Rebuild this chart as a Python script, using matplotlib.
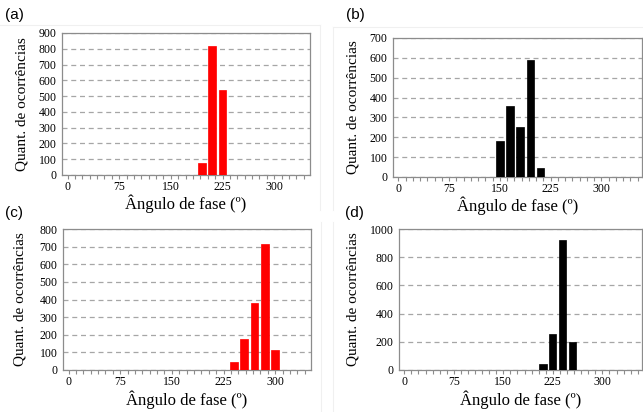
import matplotlib
matplotlib.use('Agg')
import matplotlib.pyplot as plt
from matplotlib.ticker import MultipleLocator
from matplotlib.lines import Line2D

# dados (centro da classe em graus, quantidade)
ang_a = [195, 210, 225]
qtd_a = [75, 820, 540]

ang_b = [150, 165, 180, 195, 210]
qtd_b = [180, 360, 250, 590, 45]

ang_c = [240, 255, 270, 285, 300]
qtd_c = [45, 175, 380, 715, 115]

ang_d = [195, 210, 225, 240, 255, 270]
qtd_d = [3, 45, 255, 920, 200, 3]

xticks = [0, 75, 150, 225, 300]

W, H = 643, 412
fig = plt.figure(figsize=(W/100, H/100), dpi=100)

def box(l, t, r, b):
    return [l/W, 1 - b/H, (r - l)/W, (b - t)/H]

serif = 'Liberation Serif'
sans = 'Liberation Sans'

# bordas claras das areas dos graficos (Excel)
for xs, ys in [([0, 320], [25, 25]), ([320, 320], [25, 210]),
               ([333, 643], [27, 27]), ([333, 333], [27, 210]),
               ([321, 321], [222, 412]), ([333, 333], [222, 412])]:
    fig.add_artist(Line2D([x/W for x in xs], [1 - y/H for y in ys],
                          color='#f0f0f0', linewidth=0.8))

def painel(pos, ang, qtd, cor, ymax, ystep, xmax, letra, lpos, ylx, xly):
    ax = fig.add_axes(box(*pos))
    ax.bar(ang, qtd, width=11, color=cor, edgecolor=cor, linewidth=0.5, zorder=3)
    ax.set_xlim(-8, xmax)
    ax.set_ylim(0, ymax)
    ax.set_xticks(xticks)
    ax.xaxis.set_minor_locator(MultipleLocator(75/7))
    ax.set_yticks(range(0, ymax + 1, ystep))
    ax.yaxis.grid(True, linestyle=(0, (4, 3)), color='#a6a6a6', linewidth=0.9, zorder=0)
    for s in ax.spines.values():
        s.set_color('#8c8c8c')
        s.set_linewidth(0.9)
    ax.tick_params(axis='x', which='both', direction='out', length=3, color='#8c8c8c', width=0.8)
    ax.tick_params(axis='y', length=0, pad=4)
    ax.tick_params(axis='x', pad=1.5)
    for lb in ax.get_xticklabels() + ax.get_yticklabels():
        lb.set_fontfamily(serif)
        lb.set_fontsize(8.5)
    fig.text(lpos[0]/W, 1 - lpos[1]/H, letra, family=sans, fontsize=11, ha='left', va='center')
    fig.text(ylx/W, 1 - (pos[1] + pos[3])/2/H, 'Quant. de ocorrências', family=serif,
             fontsize=11, rotation=90, ha='center', va='center')
    fig.text((pos[0] + pos[2])/2/W, 1 - xly/H, 'Ângulo de fase (º)', family=serif,
             fontsize=12, ha='center', va='center')
    return ax

painel((62, 33, 310, 175), ang_a, qtd_a, '#ff0000', 900, 100, 352, '(a)', (5, 15), 22, 204)
painel((393, 38, 642, 177), ang_b, qtd_b, '#000000', 700, 100, 360, '(b)', (346, 15), 353, 206)
painel((63, 229, 311, 370), ang_c, qtd_c, '#ff0000', 800, 100, 352, '(c)', (5, 213), 20, 400)
painel((399, 229, 642, 370), ang_d, qtd_d, '#000000', 1000, 200, 360, '(d)', (345, 213), 353, 400)

fig.savefig('out.png', dpi=100)
